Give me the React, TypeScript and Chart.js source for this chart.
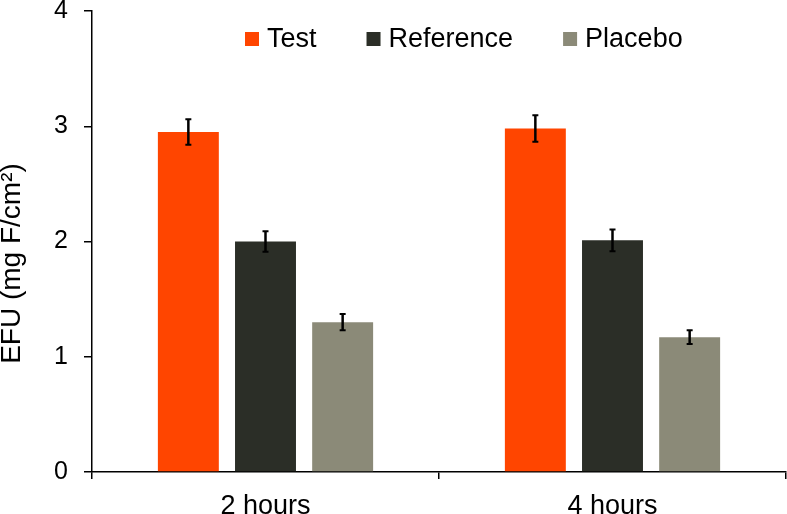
import React, { useEffect, useRef } from "react";
import { Chart, registerables } from "chart.js";

Chart.register(...registerables);

const categories = ["2 hours", "4 hours"];
const seriesNames = ["Test", "Reference", "Placebo"];
const testValues = [2.95, 2.98];
const referenceValues = [2.0, 2.01];
const placeboValues = [1.3, 1.17];
const testErrors = [0.11, 0.115];
const referenceErrors = [0.09, 0.095];
const placeboErrors = [0.07, 0.06];
const yTickValues = [0, 1, 2, 3, 4];
const yAxisTitle = "EFU (mg F/cm²)";

const seriesColors = ["#ff4500", "#2b2e27", "#8b8a78"];
const FONT = "'Liberation Sans', Arial, Helvetica, sans-serif";

const errorBarPlugin = {
  id: "errorBars",
  afterDatasetsDraw(chart: any) {
    const ctx = chart.ctx;
    const yScale = chart.scales.y;
    chart.data.datasets.forEach((ds: any, i: number) => {
      const meta = chart.getDatasetMeta(i);
      const errs: number[] = ds.errors || [];
      meta.data.forEach((el: any, j: number) => {
        const v = ds.data[j];
        const e = errs[j];
        if (e == null) return;
        const x = el.x;
        const yTop = yScale.getPixelForValue(v + e);
        const yBot = yScale.getPixelForValue(v - e);
        ctx.save();
        ctx.strokeStyle = "#000";
        ctx.lineWidth = 2.5;
        ctx.beginPath();
        ctx.moveTo(x, yTop);
        ctx.lineTo(x, yBot);
        ctx.stroke();
        ctx.lineWidth = 2;
        ctx.beginPath();
        ctx.moveTo(x - 3, yTop);
        ctx.lineTo(x + 3, yTop);
        ctx.moveTo(x - 3, yBot);
        ctx.lineTo(x + 3, yBot);
        ctx.stroke();
        ctx.restore();
      });
    });
  },
};

const legendPlugin = {
  id: "insideLegend",
  afterDraw(chart: any) {
    const ctx = chart.ctx;
    const area = chart.chartArea;
    const box = 14;
    const textGap = 22;
    const itemGap = 50;
    const cy = area.top + 28;
    ctx.save();
    ctx.font = `27px ${FONT}`;
    ctx.textBaseline = "middle";
    ctx.textAlign = "left";
    let x = area.left + 153;
    chart.data.datasets.forEach((ds: any) => {
      ctx.fillStyle = ds.backgroundColor;
      ctx.fillRect(x, cy - box / 2, box, box);
      ctx.fillStyle = "#000";
      ctx.fillText(ds.label, x + textGap, cy + 1);
      x += textGap + ctx.measureText(ds.label).width + itemGap;
    });
    ctx.restore();
  },
};

const yTitlePlugin = {
  id: "yTitle",
  afterDraw(chart: any) {
    const ctx = chart.ctx;
    const area = chart.chartArea;
    const cx = 12;
    const cy = (area.top + area.bottom) / 2 + 22;
    ctx.save();
    ctx.translate(cx, cy);
    ctx.rotate(-Math.PI / 2);
    ctx.font = `28px ${FONT}`;
    ctx.fillStyle = "#000";
    ctx.textAlign = "center";
    ctx.textBaseline = "middle";
    ctx.fillText(yAxisTitle, 0, 0);
    ctx.restore();
  },
};

export default function App() {
  const canvasRef = useRef<HTMLCanvasElement | null>(null);

  useEffect(() => {
    if (!canvasRef.current) return;
    const values = [testValues, referenceValues, placeboValues];
    const errors = [testErrors, referenceErrors, placeboErrors];
    const chart = new Chart(canvasRef.current, {
      type: "bar",
      data: {
        labels: categories,
        datasets: seriesNames.map((name, i) => ({
          label: name,
          data: values[i],
          errors: errors[i],
          backgroundColor: seriesColors[i],
          borderWidth: 0,
          categoryPercentage: 0.667,
          barPercentage: 0.79,
        })) as any,
      },
      options: {
        animation: false,
        responsive: false,
        devicePixelRatio: 1,
        layout: { padding: { top: 0, right: 1, left: 0, bottom: 0 } },
        plugins: {
          legend: { display: false },
          tooltip: { enabled: false },
        },
        scales: {
          x: {
            afterFit: (scale: any) => {
              scale.height = 42;
              scale.paddingLeft = 0;
              scale.paddingRight = 0;
            },
            grid: {
              offset: true,
              drawOnChartArea: false,
              drawTicks: true,
              tickLength: 7,
              color: "#000",
              lineWidth: 1.5,
            },
            border: { display: true, color: "#000", width: 1.5 },
            ticks: {
              color: "#000",
              padding: 14,
              font: { family: FONT, size: 27, lineHeight: 1 },
            },
          },
          y: {
            min: 0,
            max: 4,
            afterBuildTicks: (scale: any) => {
              scale.ticks = yTickValues.map((v) => ({ value: v }));
            },
            afterFit: (scale: any) => {
              scale.width = 92;
              scale.paddingTop = 11;
              scale.paddingBottom = 0;
            },
            grid: {
              drawOnChartArea: false,
              drawTicks: true,
              tickLength: 8,
              color: "#000",
              lineWidth: 1.5,
            },
            border: { display: true, color: "#000", width: 1.5 },
            ticks: {
              color: "#000",
              padding: 16,
              font: { family: FONT, size: 25, lineHeight: 1 },
            },
            title: { display: false },
          },
        },
      },
      plugins: [errorBarPlugin, legendPlugin, yTitlePlugin],
    });
    return () => chart.destroy();
  }, []);

  return (
    <div style={{ position: "absolute", left: 0, top: 0, width: 787, height: 514, background: "#fff" }}>
      <canvas ref={canvasRef} width={787} height={514} />
    </div>
  );
}
